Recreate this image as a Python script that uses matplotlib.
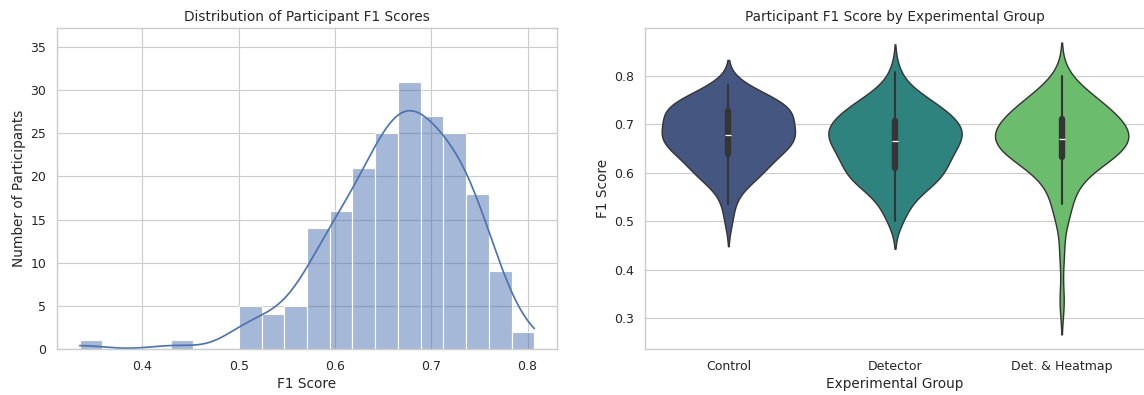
import numpy as np
import pandas as pd
import matplotlib
matplotlib.use("Agg")
import matplotlib.pyplot as plt
import seaborn as sns

# F1 scores per participant, one list per experimental group
control_scores = [
    0.501, 0.535, 0.556,
    0.575, 0.582, 0.587, 0.592,
    0.597, 0.601, 0.605, 0.609, 0.612, 0.616,
    0.622, 0.628, 0.633, 0.637, 0.639, 0.641,
    0.643, 0.646, 0.649, 0.652, 0.655, 0.658, 0.661, 0.664,
    0.666, 0.668, 0.670, 0.672, 0.674, 0.676, 0.677, 0.679, 0.682, 0.685, 0.688,
    0.690, 0.693, 0.696, 0.699, 0.702, 0.705, 0.708, 0.711,
    0.714, 0.717, 0.720, 0.723, 0.726, 0.728, 0.730, 0.731, 0.733, 0.734, 0.735,
    0.738, 0.741, 0.744, 0.747, 0.751, 0.754, 0.758,
    0.762, 0.767, 0.773, 0.780,
]
detector_scores = [
    0.501, 0.515, 0.530, 0.542, 0.553, 0.565,
    0.573, 0.576, 0.579, 0.582, 0.585, 0.587, 0.590, 0.593,
    0.598, 0.603, 0.607, 0.611, 0.614, 0.617,
    0.621, 0.625, 0.628, 0.631, 0.634, 0.637, 0.640,
    0.644, 0.647, 0.651, 0.654, 0.658, 0.661, 0.664,
    0.667, 0.669, 0.671, 0.673, 0.675, 0.677, 0.680, 0.682, 0.685, 0.688,
    0.690, 0.693, 0.695, 0.698, 0.700, 0.703, 0.706, 0.709, 0.711,
    0.715, 0.719, 0.722, 0.725, 0.728, 0.731, 0.734,
    0.739, 0.743, 0.748, 0.752, 0.757,
    0.765, 0.776, 0.807,
]
heatmap_scores = [
    0.335, 0.433, 0.506, 0.512, 0.536, 0.552, 0.564,
    0.578, 0.588,
    0.598, 0.604, 0.610, 0.615,
    0.620, 0.623, 0.627, 0.630, 0.633, 0.635, 0.638, 0.641,
    0.644, 0.647, 0.649, 0.651, 0.654, 0.656, 0.658, 0.660, 0.662, 0.665,
    0.666, 0.667, 0.669, 0.671, 0.674, 0.677, 0.680, 0.683, 0.686, 0.688,
    0.690, 0.692, 0.695, 0.697, 0.699, 0.701, 0.703, 0.705, 0.708, 0.711,
    0.714, 0.718, 0.721, 0.725, 0.728, 0.731, 0.735,
    0.738, 0.742, 0.746, 0.750, 0.754, 0.758,
    0.763, 0.770, 0.778, 0.800,
]
group_names = ["Control", "Detector", "Det. & Heatmap"]

df = pd.DataFrame({
    "group": np.repeat(group_names, [len(control_scores), len(detector_scores), len(heatmap_scores)]),
    "f1": control_scores + detector_scores + heatmap_scores,
})

sns.set_theme(style="whitegrid")

dpi = 81.7
fig = plt.figure(figsize=(1144 / dpi, 395 / dpi), dpi=dpi)
ax1 = fig.add_axes([57 / 1144, 46 / 395, 500 / 1144, 321 / 395])
ax2 = fig.add_axes([645 / 1144, 46 / 395, 500 / 1144, 321 / 395])

# histogram of all participants with a KDE overlay
sns.histplot(df["f1"], bins=20, kde=True, ax=ax1)
ax1.set_ylim(0, 37.2)
ax1.set_title("Distribution of Participant F1 Scores")
ax1.set_xlabel("F1 Score")
ax1.set_ylabel("Number of Participants")

# violin per group
sns.violinplot(data=df, x="group", y="f1", hue="group", palette="viridis",
               legend=False, ax=ax2)
ax2.set_title("Participant F1 Score by Experimental Group")
ax2.set_xlabel("Experimental Group")
ax2.set_ylabel("F1 Score")

fig.savefig("out.png", dpi=dpi)
